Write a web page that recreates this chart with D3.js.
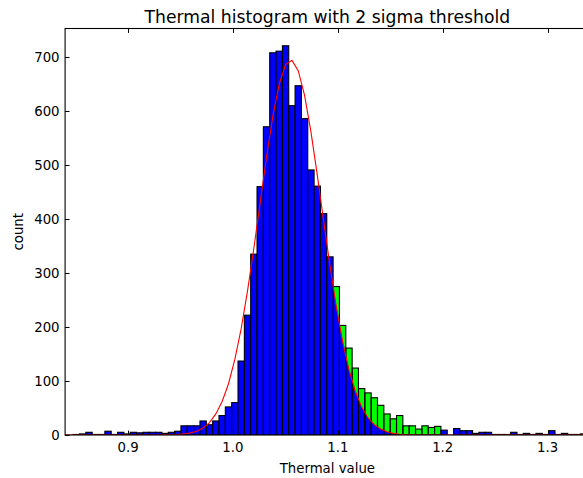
<!DOCTYPE html>
<html>
<head>
<meta charset="utf-8">
<script src="https://cdn.jsdelivr.net/npm/d3@7/dist/d3.min.js"></script>
<style>
  html, body { margin: 0; padding: 0; background: #ffffff; }
  svg { display: block; font-family: "DejaVu Sans", sans-serif; }
</style>
</head>
<body>
<svg id="chart" width="583" height="478"></svg>
<script>
// ---------------- data ----------------
const binStart = 0.8356;
const binWidth = 0.006044;

// blue histogram counts per bin (null = bin shown as green threshold bar)
const blueCounts = [
  0, 0, 1, 2, 5, 1, 1, 7, 1, 5,
  2, 5, 4, 5, 5, 5, 3, 5, 7, 17,
  17, 17, 26, 19, 26, 36, 52, 60, 137, 222,
  335, 460, 571, 708, 711, 721, 610, 647, 586, 491,
  461, 410, 330, null, null, null, null, null, null, null,
  null, null, null, null, null, null, null, null, null, null,
  9, 0, 12, 8, 8, 3, 5, 5, 1, 1,
  1, 5, 1, 3, 1, 3, 1, 8, 1, 3,
  1, 1, 2, 1
];

// green (above threshold) counts, bins 43..59
const greenFirstBin = 43;
const greenCounts = [275, 203, 161, 124, 86, 78, 69, 55, 39, 30, 36, 17, 17, 11, 17, 14, 16];

// fitted curve values at bin centres
const fitValues = [
  0, 0, 0, 0, 0, 0, 0, 0, 0, 0,
  0, 0, 0, 0, 0, 0.1, 0.2, 0.5, 1, 2,
  4, 7, 13, 23, 39, 62, 95, 140, 197, 267,
  346, 431, 515, 591, 650, 686, 694, 675, 629, 562,
  482, 397, 314, 238, 173, 121, 81, 52, 32, 19,
  11, 6, 3, 1.5, 0.7, 0.3, 0.1, 0, 0, 0,
  0, 0, 0, 0, 0, 0, 0, 0, 0, 0,
  0, 0, 0, 0, 0, 0, 0, 0, 0, 0,
  0, 0, 0, 0
];

const xTicks = [0.9, 1.0, 1.1, 1.2, 1.3];
const yTicks = [0, 100, 200, 300, 400, 500, 600, 700];
const xDomain = [0.84, 1.34];
const yDomain = [0, 753];

const titleText = "Thermal histogram with 2 sigma threshold";
const xLabel = "Thermal value";
const yLabel = "count";

// ---------------- layout ----------------
const pLeft = 65.1, pRight = 589.6, pTop = 28.5, pBottom = 435;
const svg = d3.select("#chart");
const x = d3.scaleLinear().domain(xDomain).range([pLeft, pRight]);
const y = d3.scaleLinear().domain(yDomain).range([pBottom, pTop]);

const defs = svg.append("defs");
defs.append("clipPath").attr("id", "plotclip")
  .append("rect").attr("x", pLeft).attr("y", pTop)
  .attr("width", pRight - pLeft).attr("height", pBottom - pTop);

const plot = svg.append("g").attr("clip-path", "url(#plotclip)");

const binL = i => binStart + i * binWidth;
const binR = i => binStart + (i + 1) * binWidth;
const binC = i => binStart + (i + 0.5) * binWidth;

const greenData = greenCounts.map((v, k) => ({ i: greenFirstBin + k, v }));

const gclip = defs.append("clipPath").attr("id", "greenclip");
gclip.selectAll("rect").data(greenData).join("rect")
  .attr("x", d => x(binL(d.i)))
  .attr("y", d => y(d.v))
  .attr("width", d => x(binR(d.i)) - x(binL(d.i)))
  .attr("height", d => y(0) - y(d.v));

plot.append("g").selectAll("rect").data(greenData).join("rect")
  .attr("x", d => x(binL(d.i)))
  .attr("y", d => y(d.v))
  .attr("width", d => x(binR(d.i)) - x(binL(d.i)))
  .attr("height", d => y(0) - y(d.v))
  .attr("fill", "#00ff00");

const fitPts = fitValues.map((v, i) => ({ xv: binC(i), v }));
const area = d3.area().x(d => x(d.xv)).y0(y(0)).y1(d => y(d.v));
plot.append("path").datum(fitPts)
  .attr("clip-path", "url(#greenclip)")
  .attr("d", area).attr("fill", "#0000ff");

plot.append("g").selectAll("rect").data(greenData).join("rect")
  .attr("x", d => x(binL(d.i)))
  .attr("y", d => y(d.v))
  .attr("width", d => x(binR(d.i)) - x(binL(d.i)))
  .attr("height", d => y(0) - y(d.v))
  .attr("fill", "none").attr("stroke", "#000").attr("stroke-width", 1.1);

const blueData = blueCounts.map((v, i) => ({ i, v })).filter(d => d.v !== null && d.v > 0);
plot.append("g").selectAll("rect").data(blueData).join("rect")
  .attr("x", d => x(binL(d.i)))
  .attr("y", d => y(d.v))
  .attr("width", d => x(binR(d.i)) - x(binL(d.i)))
  .attr("height", d => y(0) - y(d.v))
  .attr("fill", "#0000ff").attr("stroke", "#000").attr("stroke-width", 1.1);

const line = d3.line().x(d => x(d.xv)).y(d => y(d.v));
plot.append("path").datum(fitPts)
  .attr("d", line).attr("fill", "none")
  .attr("stroke", "#ff0000").attr("stroke-width", 1.1);

// ---------------- axes ----------------
const tickLen = 4.4;
const axes = svg.append("g");
axes.append("rect").attr("x", pLeft).attr("y", pTop)
  .attr("width", pRight - pLeft).attr("height", pBottom - pTop)
  .attr("fill", "none").attr("stroke", "#000").attr("stroke-width", 1.1);

xTicks.forEach(t => {
  const px = Math.round(x(t)) + 0.5;
  axes.append("line").attr("x1", px).attr("x2", px).attr("y1", pBottom).attr("y2", pBottom - tickLen)
    .attr("stroke", "#000").attr("stroke-width", 1);
  axes.append("line").attr("x1", px).attr("x2", px).attr("y1", pTop).attr("y2", pTop + tickLen)
    .attr("stroke", "#000").attr("stroke-width", 1);
  axes.append("text").attr("x", x(t)).attr("y", 452)
    .attr("text-anchor", "middle").attr("font-size", 13.3).attr("fill", "#000")
    .text(d3.format(".1f")(t));
});

yTicks.forEach(t => {
  const py = Math.round(y(t)) + 0.5;
  axes.append("line").attr("x1", pLeft).attr("x2", pLeft + tickLen).attr("y1", py).attr("y2", py)
    .attr("stroke", "#000").attr("stroke-width", 1);
  axes.append("line").attr("x1", pRight).attr("x2", pRight - tickLen).attr("y1", py).attr("y2", py)
    .attr("stroke", "#000").attr("stroke-width", 1);
  axes.append("text").attr("x", pLeft - 5.5).attr("y", y(t) + 4.8)
    .attr("text-anchor", "end").attr("font-size", 13.3).attr("fill", "#000")
    .text(t);
});

svg.append("text").attr("x", (pLeft + pRight) / 2).attr("y", 23)
  .attr("text-anchor", "middle").attr("font-size", 17.2).attr("fill", "#000")
  .text(titleText);

svg.append("text").attr("x", (pLeft + pRight) / 2).attr("y", 473)
  .attr("text-anchor", "middle").attr("font-size", 13.3).attr("fill", "#000")
  .text(xLabel);

svg.append("text").attr("transform", `translate(23, ${(pTop + pBottom) / 2}) rotate(-90)`)
  .attr("text-anchor", "middle").attr("font-size", 13.3).attr("fill", "#000")
  .text(yLabel);
</script>
</body>
</html>
